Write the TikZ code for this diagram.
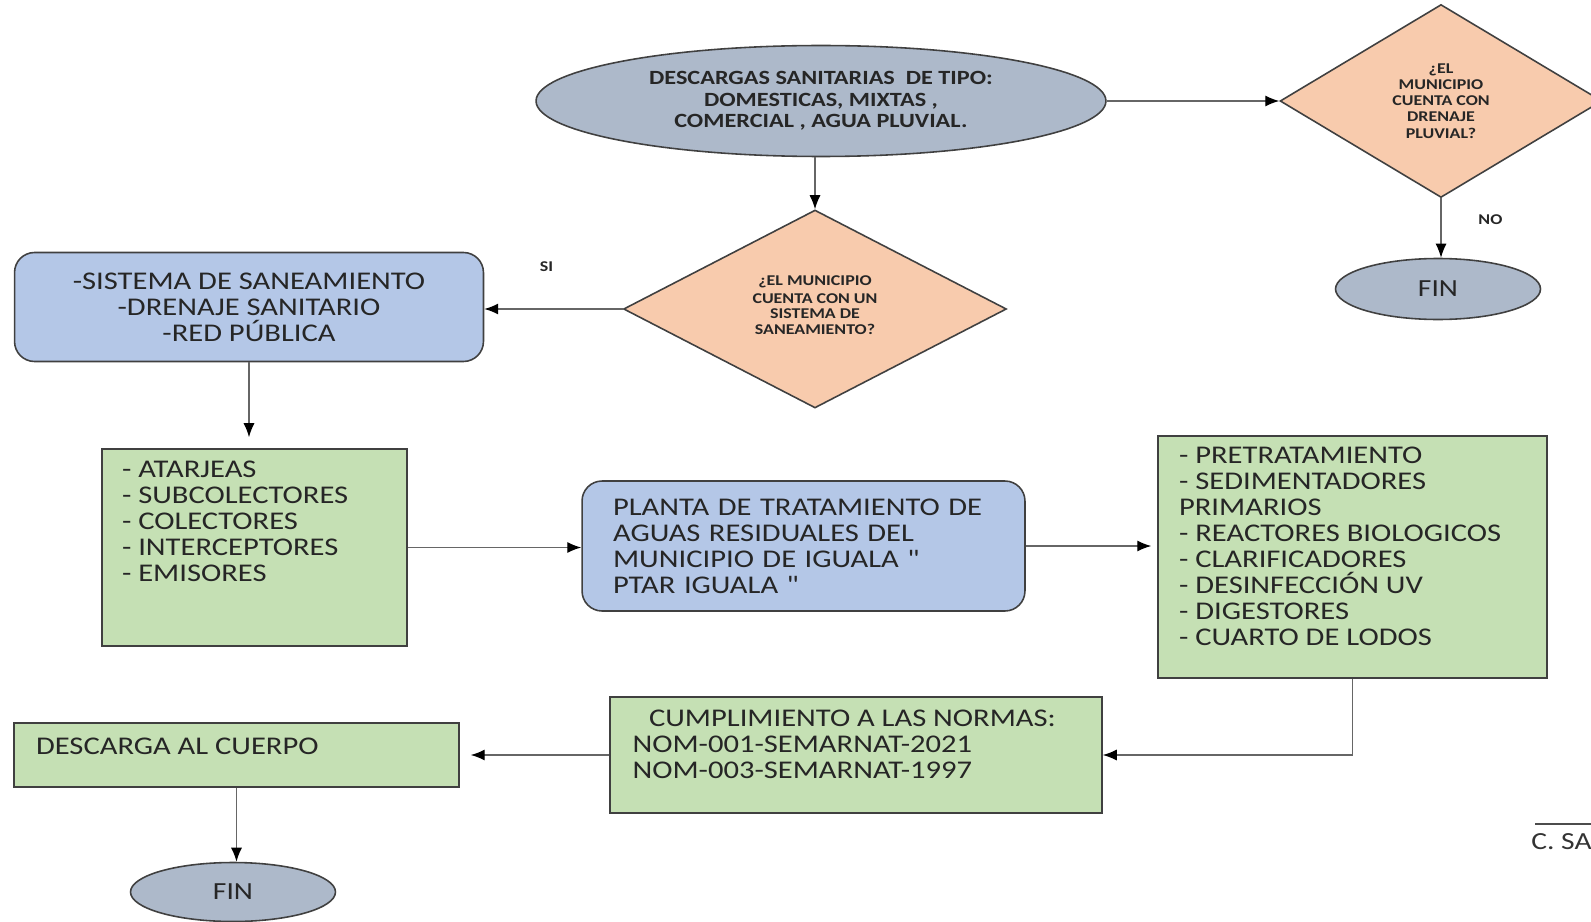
\documentclass[tikz,border=0pt]{standalone}
\usepackage{fontspec}
\setmainfont{Carlito}[FakeStretch=1.2]
\usetikzlibrary{shapes.geometric,arrows.meta}

\definecolor{endfill}{HTML}{ADB9CA}
\definecolor{askfill}{HTML}{F8CBAD}
\definecolor{procfill}{HTML}{B4C7E7}
\definecolor{listfill}{HTML}{C5E0B4}

% fixed-size text block, text at the top
\newcommand{\boxlines}[3]{\begin{minipage}[c][#2][t]{#1}\raggedright #3\end{minipage}}

\begin{document}
\begin{tikzpicture}[x=0.02cm,y=-0.02cm]

\tikzset{
  base/.style={draw=black!75, line width=0.9pt, text=black!85, inner sep=0pt},
  terminal/.style={base, ellipse, fill=endfill},
  decision/.style={base, diamond, fill=askfill, align=center,
    font=\fontsize{8.5}{9.2}\selectfont\bfseries},
  process/.style={base, rounded corners=0.4cm, fill=procfill,
    font=\fontsize{14.5}{14.8}\selectfont},
  listbox/.style={base, rectangle, fill=listfill,
    font=\fontsize{14.5}{14.8}\selectfont},
  flow/.style={draw=black!60, line width=0.7pt,
    -{Latex[length=0.28cm,width=0.22cm,color=black]}},
  tag/.style={font=\fontsize{8.5}{9}\selectfont\bfseries, text=black!85}
}

\useasboundingbox (0,0) rectangle (1591,922);

% top row
\node[terminal, minimum width=11.4cm, minimum height=2.22cm, align=center,
  font=\fontsize{11.5}{12.1}\selectfont\bfseries] (descarga) at (821,101)
  {DESCARGAS SANITARIAS\ \ DE TIPO:\\DOMESTICAS, MIXTAS ,\\COMERCIAL , AGUA PLUVIAL.};
\node[decision, minimum width=6.44cm, minimum height=3.86cm] (pluvial) at (1441,101)
  {¿EL\\MUNICIPIO\\CUENTA CON\\DRENAJE\\PLUVIAL?};
\node[terminal, minimum width=4.1cm, minimum height=1.22cm,
  font=\fontsize{14}{16}\selectfont] (finA) at (1438,289) {FIN};

% second row
\node[decision, minimum width=7.66cm, minimum height=3.96cm] (saneam) at (815,309)
  {\raisebox{0.16cm}{\shortstack{¿EL MUNICIPIO\\CUENTA CON UN\\SISTEMA DE\\SANEAMIENTO?}}};
\node[process, minimum width=9.38cm, minimum height=2.18cm, align=center] (sistema) at (249,307)
  {-SISTEMA DE SANEAMIENTO\\-DRENAJE SANITARIO\\-RED PÚBLICA};

% third row
\node[listbox, inner xsep=0.4cm, inner ysep=0.24cm] (conductos) at (254.5,547.5)
  {\boxlines{5.3cm}{3.46cm}{- ATARJEAS\\- SUBCOLECTORES\\- COLECTORES\\- INTERCEPTORES\\- EMISORES}};
\node[process, inner xsep=0.62cm, text width=7.62cm, minimum height=2.6cm, align=left] (ptar) at (803.5,546)
  {PLANTA DE TRATAMIENTO DE\\AGUAS RESIDUALES DEL\\MUNICIPIO DE IGUALA \textquotedbl\\PTAR IGUALA \textquotedbl};
\node[listbox, inner xsep=0.42cm, inner ysep=0.22cm] (procesos) at (1352.5,557)
  {\boxlines{6.94cm}{4.4cm}{- PRETRATAMIENTO\\- SEDIMENTADORES\\PRIMARIOS\\- REACTORES BIOLOGICOS\\- CLARIFICADORES\\- DESINFECCIÓN UV\\- DIGESTORES\\- CUARTO DE LODOS}};

% bottom row
\node[listbox, inner xsep=0.45cm, inner ysep=0.26cm] (normas) at (856,755)
  {\boxlines{8.94cm}{1.8cm}{\hspace*{0.33cm}CUMPLIMIENTO A LAS NORMAS:\\NOM-001-SEMARNAT-2021\\NOM-003-SEMARNAT-1997}};
\node[listbox, inner xsep=0.44cm, inner ysep=0.3cm] (cuerpo) at (236.5,755)
  {\boxlines{8.02cm}{0.68cm}{DESCARGA AL CUERPO}};
\node[terminal, minimum width=4.1cm, minimum height=1.18cm,
  font=\fontsize{14}{16}\selectfont] (finB) at (233,892) {FIN};

% connectors
\draw[flow] (descarga.east) -- (pluvial.west);
\draw[flow] (descarga.south -| saneam.north) -- (saneam.north);
\draw[flow] (pluvial.south) -- node[tag, pos=0.36, right=0.62cm] {NO} (pluvial.south |- finA.north);
\draw[flow] (saneam.west) -- node[tag, pos=0.55, above=0.62cm] {SI} (saneam.west -| sistema.east);
\draw[flow, shorten >=0.22cm] (sistema.south) -- (sistema.south |- conductos.north);
\draw[flow] (conductos.east) -- (conductos.east -| ptar.west);
\draw[flow, shorten >=0.12cm] (ptar.east) -- (ptar.east -| procesos.west);
\draw[flow] (procesos.south) |- (normas.east);
\draw[flow, shorten >=0.22cm] (normas.west) -- (cuerpo.east);
\draw[flow] (cuerpo.south) -- (cuerpo.south |- finB.north);

% signature line
\draw[black!70, line width=0.8pt] (1535,824) -- (1600,824);
\node[anchor=west, inner sep=0pt, font=\fontsize{14}{16}\selectfont, text=black!80] (firma) at (1531,842) {C. SA};

\end{tikzpicture}
\end{document}
